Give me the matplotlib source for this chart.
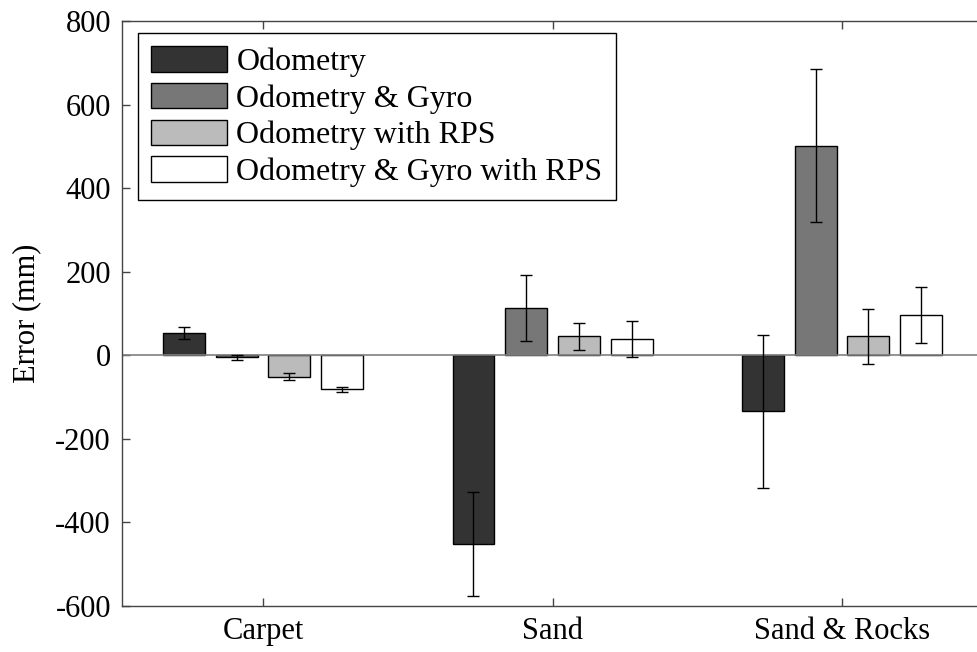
import numpy as np
import matplotlib.pyplot as plt

# Mittlere Fehler und Standardabweichungen je Untergrund (mm)
surfaces = ['Carpet', 'Sand', 'Sand & Rocks']
series = ['Odometry', 'Odometry & Gyro', 'Odometry with RPS', 'Odometry & Gyro with RPS']
odo = [53, -451, -134]
odo_err = [15, 125, 183]
odo_gyro = [-5, 113, 501]
odo_gyro_err = [6, 80, 183]
odo_rps = [-51, 45, 45]
odo_rps_err = [8, 33, 65]
odo_gyro_rps = [-81, 39, 96]
odo_gyro_rps_err = [6, 42, 67]

colors = ['#333333', '#777777', '#bbbbbb', '#ffffff']

plt.rcParams['font.family'] = ['Liberation Serif', 'DejaVu Serif']
plt.rcParams['font.size'] = 22
plt.rcParams['axes.unicode_minus'] = False

fig = plt.figure(figsize=(9.77, 6.52), dpi=100)
ax = fig.add_axes([122 / 977, 1 - 606 / 652, 855 / 977, 585 / 652])

x = np.arange(1, len(surfaces) + 1)
pitch = 0.182
width = 0.145
values = [odo, odo_gyro, odo_rps, odo_gyro_rps]
errors = [odo_err, odo_gyro_err, odo_rps_err, odo_gyro_rps_err]

handles = []
for i, (vals, errs) in enumerate(zip(values, errors)):
    pos = x + (i - 1.5) * pitch
    b = ax.bar(pos, vals, width, color=colors[i], edgecolor='black',
               linewidth=1.0, zorder=2, label=series[i])
    handles.append(b)
    ax.errorbar(pos, vals, yerr=errs, fmt='none', ecolor='black',
                elinewidth=1.0, capsize=4, capthick=1.0, zorder=3)

# Nulllinie
ax.axhline(0, color='#808080', linewidth=1.2, zorder=2.5)

ax.set_xlim(0.513, 3.466)
ax.set_ylim(-600, 800)
ax.set_yticks(np.arange(-600, 801, 200))
ax.set_xticks(x)
ax.set_xticklabels(surfaces)
ax.set_ylabel('Error (mm)', fontsize=22, labelpad=10)

ax.tick_params(direction='in', length=6, width=1, color='#444444',
               top=True, right=False, labelsize=22, pad=8)
for side in ['left', 'bottom', 'top']:
    ax.spines[side].set_color('#444444')
    ax.spines[side].set_linewidth(1.0)
ax.spines['right'].set_visible(False)

leg = ax.legend(handles, series, loc='upper left',
                bbox_to_anchor=(16 / 855, 1 - 12 / 585),
                borderaxespad=0, fontsize=23, frameon=True, fancybox=False,
                edgecolor='black', framealpha=1, handlelength=2.38,
                handleheight=0.85, handletextpad=0.28, labelspacing=0.18,
                borderpad=0.42)
leg.get_frame().set_linewidth(1.0)

fig.savefig('out.png', dpi=100)
